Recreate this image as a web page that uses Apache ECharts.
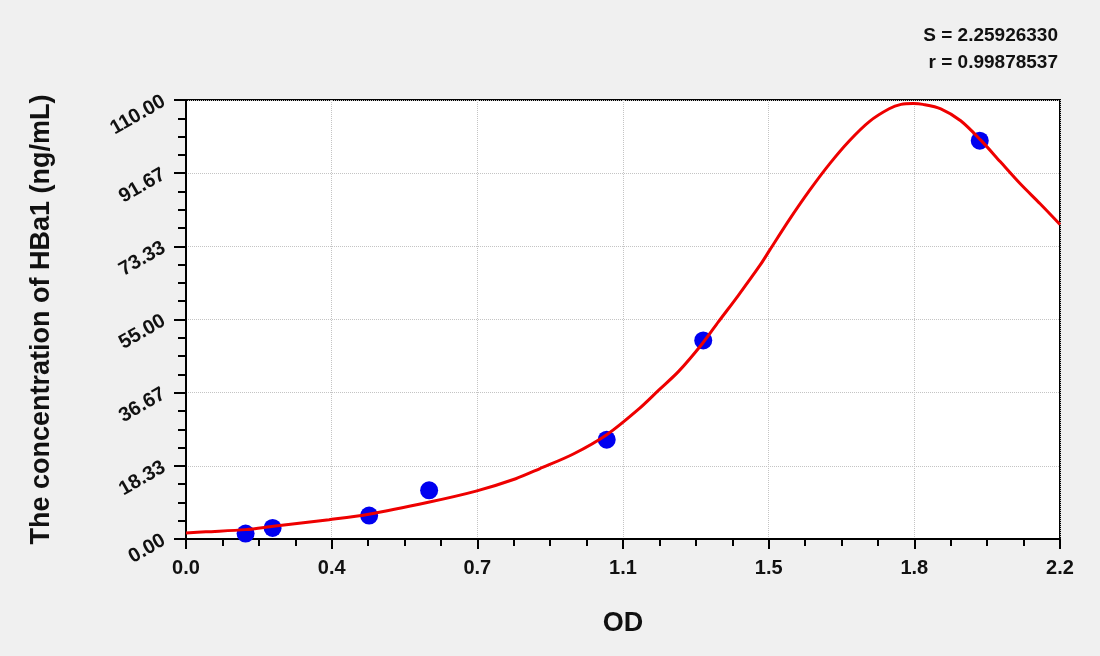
<!DOCTYPE html>
<html>
<head>
<meta charset="utf-8">
<title>HBa1 standard curve</title>
<script src="https://cdn.jsdelivr.net/npm/echarts@6/dist/echarts.min.js"></script>
<style>
  html, body { margin: 0; padding: 0; background: #f0f0f0; }
  #curveChart { width: 1100px; height: 656px; }
</style>
</head>
<body>
<div id="curveChart"></div>
<script>
// standard points (OD vs concentration)
var pointOd = [0.150, 0.218, 0.461, 0.612, 1.059, 1.302, 1.998];
var pointConc = [1.35, 2.76, 5.87, 12.2, 24.9, 49.75, 99.8];

// fitted curve
var curveOd = [0, 0.05, 0.15, 0.22, 0.36, 0.46, 0.61, 0.73, 0.83, 0.89, 0.975, 1.06, 1.14, 1.19, 1.24, 1.30, 1.34, 1.39, 1.445, 1.47, 1.52, 1.57, 1.62, 1.67, 1.72, 1.77, 1.80, 1.83, 1.855, 1.90, 1.95, 2.00, 2.05, 2.10, 2.15, 2.2];
var curveConc = [1.5, 1.8, 2.35, 3.2, 4.85, 6.2, 9.2, 12.0, 15.1, 17.6, 21.3, 26.2, 32.6, 37.3, 42.0, 49.0, 54.4, 61.0, 68.6, 72.5, 80.2, 87.4, 94.0, 99.8, 104.6, 107.8, 108.9, 109.1, 108.9, 107.8, 104.8, 100.0, 94.5, 89.0, 84.0, 78.8];

var xMax = 2.2;
var yMax = 110;
var statS = 'S = 2.25926330';
var statR = 'r = 0.99878537';

function pairs(xs, ys) {
  var out = [];
  for (var i = 0; i < xs.length; i++) {
    out.push([xs[i], ys[i]]);
  }
  return out;
}

var myChart = echarts.init(document.getElementById('curveChart'));
var fontFam = 'Liberation Sans, Arial, sans-serif';

var option = {
  backgroundColor: '#f0f0f0',
  animation: false,
  grid: {
    left: 186, right: 40, top: 100, bottom: 117,
    show: true,
    backgroundColor: '#fff',
    borderColor: '#000',
    borderWidth: 2
  },
  graphic: [
    {
      type: 'text', right: 42, top: 26,
      style: { text: statS, font: 'bold 19px ' + fontFam, fill: '#111', textAlign: 'right' }
    },
    {
      type: 'text', right: 42, top: 53,
      style: { text: statR, font: 'bold 19px ' + fontFam, fill: '#111', textAlign: 'right' }
    }
  ],
  xAxis: {
    type: 'value',
    min: 0,
    max: xMax,
    interval: xMax / 6,
    name: 'OD',
    nameLocation: 'middle',
    nameGap: 71,
    nameTextStyle: { fontSize: 27, fontWeight: 'bold', color: '#111', fontFamily: fontFam },
    axisLine: { onZero: false, lineStyle: { color: '#000', width: 2 } },
    axisTick: { show: true, inside: false, length: 10, lineStyle: { color: '#000', width: 2 } },
    minorTick: { show: true, splitNumber: 4, length: 7, lineStyle: { color: '#000', width: 2 } },
    axisLabel: {
      margin: 19,
      fontSize: 20, fontWeight: 'bold', color: '#111', fontFamily: fontFam,
      showMinLabel: true, showMaxLabel: true,
      formatter: function (v) { return v.toFixed(1); }
    },
    splitLine: { show: true, lineStyle: { color: '#c4c4c4', type: 'dotted', width: 1 } }
  },
  yAxis: {
    type: 'value',
    min: 0,
    max: yMax,
    interval: yMax / 6,
    name: 'The concentration of HBa1 (ng/mL)',
    nameLocation: 'middle',
    nameRotate: 90,
    nameGap: 131,
    nameMoveOverlap: false,
    nameTextStyle: { fontSize: 27, fontWeight: 'bold', color: '#111', fontFamily: fontFam },
    axisLine: { show: true, onZero: false, lineStyle: { color: '#000', width: 2 } },
    axisTick: { show: true, inside: false, length: 12, lineStyle: { color: '#000', width: 2 } },
    minorTick: { show: true, splitNumber: 4, length: 8, lineStyle: { color: '#000', width: 2 } },
    axisLabel: {
      margin: 22,
      rotate: 30,
      fontSize: 20, fontWeight: 'bold', color: '#111', fontFamily: fontFam,
      showMinLabel: true, showMaxLabel: true,
      formatter: function (v) { return v.toFixed(2); }
    },
    splitLine: { show: true, lineStyle: { color: '#c4c4c4', type: 'dotted', width: 1 } }
  },
  series: [
    {
      name: 'fit',
      type: 'line',
      data: pairs(curveOd, curveConc),
      smooth: 0.3,
      showSymbol: false,
      lineStyle: { color: '#ee0000', width: 3 },
      z: 3
    },
    {
      name: 'standards',
      type: 'scatter',
      data: pairs(pointOd, pointConc),
      symbolSize: 18,
      itemStyle: { color: '#0000f0', opacity: 1 },
      z: 2
    }
  ]
};
myChart.setOption(option);
</script>
</body>
</html>
